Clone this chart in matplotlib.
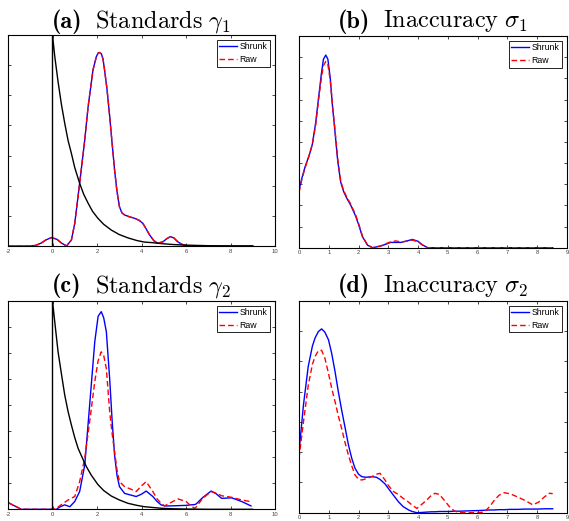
import matplotlib
matplotlib.use("Agg")
import matplotlib.pyplot as plt
import numpy as np

plt.rcParams['mathtext.fontset'] = 'cm'
plt.rcParams['font.family'] = ['Liberation Sans', 'DejaVu Sans']

# ---------------- data ----------------
# (a) Standards gamma_1
a_x = [-2, -1.0, -0.75, -0.5, -0.3, -0.05, 0.2, 0.4, 0.63, 0.85, 1.0, 1.22, 1.45, 1.6, 1.82, 1.97,
       2.05, 2.12, 2.2, 2.27, 2.34, 2.45, 2.57, 2.68, 2.79, 2.9, 3.01, 3.12, 3.24, 3.45, 3.69, 3.9, 4.06,
       4.2, 4.36, 4.55, 4.73, 4.96, 5.15, 5.3, 5.45, 5.63, 5.8, 5.93, 6.1, 7, 8, 9]
a_shrunk = [0, 0, 0.002, 0.01, 0.02, 0.028, 0.022, 0.01, 0, 0.02, 0.075, 0.208, 0.352, 0.462, 0.584, 0.628,
            0.64, 0.642, 0.637, 0.62, 0.584, 0.52, 0.43, 0.34, 0.252, 0.18, 0.13, 0.11, 0.103, 0.097, 0.092,
            0.085, 0.075, 0.058, 0.037, 0.018, 0.009, 0.014, 0.025, 0.031, 0.027, 0.014, 0.006, 0.003, 0, 0, 0, 0]
a_raw = [0, 0, 0.002, 0.01, 0.02, 0.028, 0.022, 0.01, 0, 0.02, 0.075, 0.208, 0.352, 0.462, 0.584, 0.628,
         0.64, 0.642, 0.637, 0.62, 0.584, 0.52, 0.43, 0.34, 0.252, 0.18, 0.13, 0.11, 0.103, 0.097, 0.092,
         0.085, 0.075, 0.058, 0.037, 0.018, 0.009, 0.014, 0.025, 0.031, 0.027, 0.014, 0.006, 0.003, 0, 0, 0, 0]
a_prior_x = [0, 0, 0.1, 0.25, 0.4, 0.55, 0.7, 0.85, 1.0, 1.22, 1.4, 1.6, 1.8, 2.04, 2.3, 2.64, 3.0, 3.39,
             3.8, 4.13, 4.5, 4.88, 5.4, 5.93, 7, 8, 9]
a_prior = [0, 0.7, 0.63, 0.545, 0.47, 0.407, 0.35, 0.307, 0.26, 0.208, 0.172, 0.142, 0.115, 0.092, 0.072,
           0.053, 0.038, 0.027, 0.018, 0.013, 0.011, 0.008, 0.005, 0.003, 0.001, 0, 0]

# (b) Inaccuracy sigma_1
b_x = [0, 0.1, 0.2, 0.35, 0.45, 0.56, 0.65, 0.75, 0.82, 0.9, 0.97, 1.05, 1.13, 1.2, 1.3, 1.4, 1.5, 1.6, 1.74,
       1.9, 2.0, 2.13, 2.3, 2.47, 2.75, 3.08, 3.25, 3.42, 3.65, 3.81, 4.0, 4.15, 4.32, 5, 6, 7, 8, 8.52]
b_shrunk = [0.272, 0.33, 0.38, 0.44, 0.49, 0.59, 0.70, 0.82, 0.89, 0.91, 0.89, 0.80, 0.66, 0.56, 0.41, 0.31,
            0.265, 0.235, 0.20, 0.15, 0.11, 0.052, 0.012, 0, 0.008, 0.025, 0.025, 0.025, 0.033, 0.039, 0.03,
            0.013, 0, 0, 0, 0, 0, 0]
b_raw = [0.26, 0.325, 0.375, 0.44, 0.49, 0.58, 0.69, 0.80, 0.86, 0.88, 0.865, 0.79, 0.665, 0.57, 0.42, 0.315,
         0.27, 0.24, 0.205, 0.155, 0.115, 0.055, 0.013, 0, 0.009, 0.028, 0.032, 0.027, 0.031, 0.036, 0.028,
         0.012, 0, 0, 0, 0, 0, 0]

# (c) Standards gamma_2
c_x = [-2, -1.7, -1.4, -1.0, 0, 0.18, 0.35, 0.55, 0.78, 1.0, 1.22, 1.45, 1.67, 1.9, 2.05, 2.19, 2.3, 2.42,
       2.57, 2.68, 2.79, 2.9, 3.01, 3.24, 3.5, 3.76, 4.0, 4.21, 4.51, 4.7, 4.88, 5.04, 5.3, 5.63, 6.0, 6.2,
       6.38, 6.45, 6.75, 7.13, 7.35, 7.6, 8.05, 8.5, 8.92]
c_shrunk = [0.026, 0.013, 0, 0, 0, 0, 0.01, 0.017, 0.01, 0.03, 0.068, 0.17, 0.40, 0.643, 0.74, 0.758, 0.735,
            0.681, 0.50, 0.34, 0.208, 0.13, 0.087, 0.061, 0.055, 0.049, 0.058, 0.07, 0.049, 0.03, 0.017, 0.013,
            0.013, 0.014, 0.015, 0.017, 0.018, 0.02, 0.045, 0.07, 0.06, 0.042, 0.044, 0.03, 0.013]
c_raw = [0.026, 0.013, 0, 0, 0, 0.004, 0.015, 0.027, 0.04, 0.049, 0.106, 0.196, 0.336, 0.49, 0.57, 0.604, 0.59,
         0.54, 0.374, 0.29, 0.221, 0.15, 0.106, 0.087, 0.078, 0.068, 0.09, 0.106, 0.068, 0.04, 0.023, 0.013,
         0.025, 0.04, 0.03, 0.015, 0.004, 0.008, 0.042, 0.068, 0.062, 0.052, 0.046, 0.036, 0.029]
c_prior_x = [0, 0, 0.1, 0.25, 0.4, 0.55, 0.7, 0.85, 1.0, 1.15, 1.3, 1.52, 1.75, 2.04, 2.3, 2.64, 3.0, 3.39,
             3.8, 4.13, 4.5, 4.88, 5.4, 6.0, 7, 8, 9]
c_prior = [0, 0.8, 0.72, 0.604, 0.52, 0.438, 0.375, 0.323, 0.275, 0.234, 0.205, 0.164, 0.13, 0.095, 0.072,
           0.051, 0.036, 0.023, 0.015, 0.01, 0.007, 0.004, 0.002, 0.001, 0, 0, 0]

# (d) Inaccuracy sigma_2
d_x = [0, 0.15, 0.31, 0.45, 0.54, 0.65, 0.76, 0.87, 0.99, 1.1, 1.21, 1.32, 1.43, 1.55, 1.66, 1.77, 1.88, 2.0,
       2.11, 2.25, 2.44, 2.6, 2.72, 2.89, 3.0, 3.17, 3.34, 3.5, 3.68, 3.8, 3.96, 4.15, 4.29, 4.45, 4.57,
       4.72, 4.88, 5.05, 5.21, 5.4, 5.66, 6.0, 6.22, 6.4, 6.56, 6.72, 6.9, 7.1, 7.34, 7.6, 7.85, 8.05, 8.24,
       8.4, 8.52]
d_shrunk = [0.20, 0.356, 0.483, 0.55, 0.577, 0.598, 0.607, 0.596, 0.571, 0.525, 0.466, 0.40, 0.34, 0.28, 0.224,
            0.18, 0.147, 0.127, 0.119, 0.117, 0.119, 0.117, 0.11, 0.095, 0.08, 0.058, 0.036, 0.02, 0.009, 0.004,
            0, 0.001, 0.002, 0.003, 0.003, 0.004, 0.004, 0.004, 0.005, 0.005, 0.006, 0.007, 0.008, 0.009, 0.009,
            0.01, 0.01, 0.011, 0.011, 0.012, 0.012, 0.012, 0.013, 0.013, 0.013]
d_raw = [0.18, 0.30, 0.42, 0.49, 0.516, 0.535, 0.536, 0.51, 0.46, 0.41, 0.367, 0.32, 0.279, 0.23, 0.19, 0.155,
         0.125, 0.11, 0.108, 0.112, 0.119, 0.127, 0.13, 0.108, 0.09, 0.07, 0.06, 0.047, 0.035, 0.025, 0.014,
         0.03, 0.042, 0.058, 0.064, 0.06, 0.041, 0.02, 0.006, 0, 0, 0, 0.002, 0.02, 0.041, 0.058, 0.066, 0.062,
         0.052, 0.04, 0.026, 0.035, 0.052, 0.064, 0.063]

title_tags = ["(a)", "(b)", "(c)", "(d)"]
title_texts = [r"$\mathrm{Standards}\ \gamma_1$", r"$\mathrm{Inaccuracy}\ \sigma_1$",
               r"$\mathrm{Standards}\ \gamma_2$", r"$\mathrm{Inaccuracy}\ \sigma_2$"]
legend_labels = ["Shrunk", "Raw"]
gamma_xticks = [-2, 0, 2, 4, 6, 8, 10]
sigma_xticks = [0, 1, 2, 3, 4, 5, 6, 7, 8, 9]

# ---------------- figure ----------------
W, H = 569, 521
fig = plt.figure(figsize=(W / 100, H / 100), dpi=100)

def box(l, t, r, b):
    return [l / W, 1 - b / H, (r - l) / W, (b - t) / H]

ax_a = fig.add_axes(box(8, 35, 275, 246))
ax_b = fig.add_axes(box(299, 36, 567, 247.7))
ax_c = fig.add_axes(box(8, 300.7, 275, 509.3))
ax_d = fig.add_axes(box(299, 300.7, 567, 512.7))

blue = '#0000ff'
red = '#ff0000'
lw = 1.0
dash = (0, (4.0, 2.2))
renderer = fig.canvas.get_renderer()
TSIZE = 17.5

def add_title(ax, tag, text, baseline_px):
    t1 = fig.text(0, 1 - baseline_px / H, tag, fontfamily='cmb10', fontsize=TSIZE, va='baseline')
    t2 = fig.text(0, 1 - baseline_px / H, text, fontsize=TSIZE, va='baseline')
    w1 = t1.get_window_extent(renderer).width
    w2 = t2.get_window_extent(renderer).width
    gap = 13
    pos = ax.get_position()
    cx = (pos.x0 + pos.x1) / 2 * W
    start = cx - (w1 + gap + w2) / 2
    t1.set_x(start / W)
    t2.set_x((start + w1 + gap) / W)

def style(ax, xlim, xticks, ymax, lines, tag, text, baseline_px):
    ax.set_xlim(*xlim)
    ax.set_ylim(0, ymax)
    ax.set_xticks(xticks)
    ax.set_xticklabels([str(t) for t in xticks])
    ax.set_yticks(np.round(np.arange(0, ymax + 1e-9, 0.1), 2))
    ax.set_yticklabels([])
    ax.tick_params(direction='in', length=2.2, width=0.5, top=True, right=True,
                   labelsize=4.2, pad=2.0, colors='#000000')
    ax.tick_params(axis='x', labelcolor='#444444')
    for s in ax.spines.values():
        s.set_linewidth(0.8)
    add_title(ax, tag, text, baseline_px)
    leg = ax.legend(lines, legend_labels, loc='upper right', fontsize=6.3, fancybox=False, framealpha=1,
                    edgecolor='black', borderpad=0.3, labelspacing=0.4, handlelength=2.0,
                    handletextpad=0.35, borderaxespad=0.55)
    leg.get_frame().set_linewidth(0.6)

l1, = ax_a.plot(a_x, a_shrunk, color=blue, lw=lw)
l2, = ax_a.plot(a_x, a_raw, color=red, lw=lw, linestyle=dash)
ax_a.plot(a_prior_x, a_prior, color='black', lw=lw)
style(ax_a, (-2, 10), gamma_xticks, 0.7, [l1, l2], title_tags[0], title_texts[0], 27.5)

l1, = ax_b.plot(b_x, b_shrunk, color=blue, lw=lw)
l2, = ax_b.plot(b_x, b_raw, color=red, lw=lw, linestyle=dash)
style(ax_b, (0, 9), sigma_xticks, 1.0, [l1, l2], title_tags[1], title_texts[1], 27.5)

l1, = ax_c.plot(c_x, c_shrunk, color=blue, lw=lw)
l2, = ax_c.plot(c_x, c_raw, color=red, lw=lw, linestyle=dash)
ax_c.plot(c_prior_x, c_prior, color='black', lw=lw)
style(ax_c, (-2, 10), gamma_xticks, 0.8, [l1, l2], title_tags[2], title_texts[2], 292)

l1, = ax_d.plot(d_x, d_shrunk, color=blue, lw=lw)
l2, = ax_d.plot(d_x, d_raw, color=red, lw=lw, linestyle=dash)
style(ax_d, (0, 9), sigma_xticks, 0.7, [l1, l2], title_tags[3], title_texts[3], 292)

fig.savefig("out.png", dpi=100)
